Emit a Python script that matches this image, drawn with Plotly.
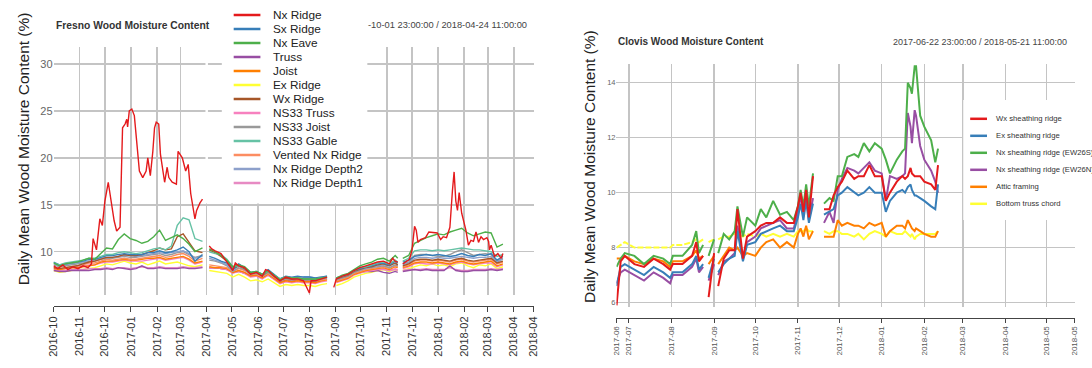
import plotly.graph_objects as go

# ---------------- DATA : Fresno (left panel) ----------------
L_DATES = [
    "2016-10-01", "2016-10-08", "2016-10-15", "2016-10-22", "2016-10-29", "2016-11-05", "2016-11-12",
    "2016-11-19", "2016-11-26", "2016-12-03", "2016-12-10", "2016-12-17", "2016-12-24", "2016-12-31",
    "2017-01-07", "2017-01-14", "2017-01-21", "2017-01-28", "2017-02-04", "2017-02-11", "2017-02-18",
    "2017-02-25", "2017-03-04", "2017-03-11", "2017-03-18", "2017-03-27",
    "2017-03-31",
    "2017-04-04", "2017-04-11", "2017-04-18", "2017-04-25", "2017-05-02", "2017-05-09", "2017-05-16",
    "2017-05-23", "2017-05-30", "2017-06-06", "2017-06-13", "2017-06-20", "2017-06-27", "2017-07-04",
    "2017-07-11", "2017-07-18", "2017-07-25", "2017-08-01", "2017-08-08", "2017-08-15", "2017-08-22",
    "2017-08-29",
    "2017-09-02", "2017-09-09", "2017-09-16", "2017-09-23", "2017-09-30", "2017-10-07", "2017-10-14",
    "2017-10-21", "2017-10-28", "2017-11-04", "2017-11-11", "2017-11-14",
    "2017-11-17",
    "2017-11-20", "2017-11-27", "2017-12-04", "2017-12-11", "2017-12-18", "2017-12-25", "2018-01-01",
    "2018-01-08", "2018-01-15", "2018-01-22", "2018-01-29", "2018-02-05", "2018-02-12", "2018-02-19",
    "2018-02-26", "2018-03-05", "2018-03-12", "2018-03-19",
]

SX_RIDGE = [8.9, 8.6, 8.7, 8.8, 8.9, 9.0, 9.2, 9.2, 9.4, 9.6, 9.6, 9.7, 9.8, 9.7, 9.7, 9.7, 9.9, 9.9, 10.1, 9.9, 10.0, 10.2, 10.5, 10.0, 9.0, 9.7,
            None,
            9.5, 9.3, 9.0, 8.8, 8.1, 8.7, 8.3, 7.8, 7.9, 7.6, 8.1, 7.6, 7.1, 7.4, 7.3, 7.4, 7.3, 7.3, 7.2, 7.3, 7.4,
            None,
            7.2, 7.4, 7.6, 8.0, 8.2, 8.4, 8.5, 8.7, 8.8, 8.6, 9.0, 8.8,
            None,
            8.9, 9.1, 9.5, 9.6, 9.7, 9.6, 9.7, 9.6, 9.5, 9.6, 9.8, 9.6, 9.5, 9.7, 9.6, 9.8, 9.1, 9.5]
NX_EAVE = [8.8, 8.5, 8.7, 8.8, 8.9, 9.1, 9.3, 9.2, 9.8, 10.4, 10.3, 11.3, 11.9, 11.4, 11.2, 10.9, 11.1, 11.6, 12.3, 11.2, 11.5, 11.8, 11.4, 10.8, 10.0, 10.4,
           None,
           10.3, 10.0, 9.6, 9.1, 8.4, 8.6, 8.4, 7.8, 7.9, 7.6, 8.0, 7.5, 7.0, 7.3, 7.2, 7.2, 7.1, 7.1, 7.1, 7.2, 7.3,
           None,
           7.2, 7.5, 7.7, 8.1, 8.5, 8.7, 8.9, 9.2, 9.3, 9.0, 9.6, 9.3,
           None,
           9.3, 9.6, 10.9, 11.2, 11.5, 11.7, 11.9, 11.8, 12.1, 12.3, 12.5, 12.0, 11.7, 11.9, 12.1, 12.0, 10.5, 10.8]
TRUSS = [8.0, 7.9, 7.9, 8.0, 8.0, 8.0, 8.0, 8.1, 8.1, 8.2, 8.1, 8.3, 8.2, 8.1, 8.2, 8.5, 8.2, 8.2, 8.3, 8.2, 8.2, 8.2, 8.3, 8.2, 8.2, 8.3,
         None,
         8.3, 8.3, 8.2, 8.1, 7.8, 7.9, 7.7, 7.4, 7.4, 7.2, 7.5, 7.1, 6.8, 7.0, 6.9, 7.0, 6.9, 6.9, 6.8, 7.0, 7.1,
         None,
         6.9, 7.1, 7.3, 7.6, 7.8, 7.9, 7.9, 8.0, 7.8, 7.7, 7.9, 7.8,
         None,
         7.9, 8.0, 8.1, 8.0, 8.1, 8.0, 8.0, 8.0, 8.5, 8.0, 7.9, 7.9, 8.0, 8.0, 8.0, 8.1, 8.0, 8.1]
JOIST = [8.2, 8.1, 8.2, 8.3, 8.3, 8.4, 8.5, 8.6, 8.9, 9.0, 9.0, 9.1, 9.2, 9.1, 9.1, 9.2, 9.3, 9.3, 9.4, 9.2, 9.3, 9.4, 9.5, 9.2, 8.8, 9.0,
         None,
         8.4, 8.3, 8.3, 8.2, 7.8, 8.0, 7.8, 7.4, 7.5, 7.2, 7.6, 7.1, 6.7, 6.9, 6.8, 6.9, 6.8, 6.8, 6.7, 6.9, 7.0,
         None,
         6.8, 7.0, 7.2, 7.6, 7.8, 8.0, 8.1, 8.2, 8.3, 8.1, 8.4, 8.3,
         None,
         8.3, 8.5, 8.8, 8.9, 8.9, 8.8, 8.9, 8.8, 8.7, 8.9, 9.0, 8.8, 8.7, 8.8, 8.9, 9.0, 8.5, 8.7]
EX_RIDGE = [8.0, 7.8, 7.9, 8.0, 8.1, 8.1, 8.2, 8.3, 8.5, 8.7, 8.6, 8.8, 9.0, 8.8, 8.7, 8.9, 8.6, 8.8, 9.0, 8.7, 8.8, 8.9, 8.7, 8.5, 8.4, 8.6,
            None,
            8.0, 7.9, 7.8, 7.7, 7.3, 7.6, 7.3, 6.9, 7.0, 6.8, 7.1, 6.7, 6.3, 6.5, 6.4, 6.5, 6.4, 6.4, 6.3, 6.5, 6.6,
            None,
            6.4, 6.6, 6.9, 7.3, 7.5, 7.7, 7.8, 8.0, 8.1, 7.9, 8.1, 8.0,
            None,
            8.0, 8.2, 8.4, 8.6, 8.5, 8.7, 8.5, 8.6, 8.4, 8.7, 8.8, 8.5, 8.3, 8.6, 8.5, 8.7, 8.2, 8.4]
WX_RIDGE = [8.3, 8.2, 8.3, 8.4, 8.5, 8.7, 8.9, 9.0, 9.2, 9.4, 9.4, 9.5, 9.7, 9.6, 9.6, 9.7, 9.9, 10.1, 10.4, 10.2, 10.3, 11.6, 11.9, 11.0, 10.1, 9.9,
            None,
            10.2, 9.9, 9.5, 9.0, 8.2, 8.5, 8.2, 7.7, 7.8, 7.5, 7.9, 7.4, 7.0, 7.2, 7.1, 7.2, 7.1, 7.1, 7.0, 7.2, 7.3,
            None,
            7.1, 7.3, 7.5, 7.9, 8.1, 8.3, 8.4, 8.6, 8.7, 8.5, 8.8, 8.6,
            None,
            8.5, 8.7, 9.1, 9.2, 9.2, 9.1, 9.2, 9.1, 9.0, 9.2, 9.3, 9.1, 9.0, 9.1, 9.2, 9.3, 8.8, 9.0]
NS33_TRUSS = [8.3, 8.1, 8.2, 8.3, 8.4, 8.5, 8.6, 8.6, 8.8, 8.9, 8.9, 9.0, 9.1, 9.0, 9.0, 9.0, 9.1, 9.2, 9.3, 9.1, 9.2, 9.3, 9.4, 9.1, 8.7, 8.9,
              None,
              8.3, 8.3, 8.2, 8.1, 7.7, 7.9, 7.7, 7.3, 7.4, 7.1, 7.5, 7.0, 6.6, 6.8, 6.7, 6.8, 6.7, 6.7, 6.6, 6.8, 6.9,
              None,
              6.7, 6.9, 7.1, 7.5, 7.7, 7.9, 8.0, 8.1, 8.2, 8.0, 8.2, 8.1,
              None,
              8.2, 8.4, 8.7, 8.8, 8.7, 8.7, 8.8, 8.7, 8.6, 8.8, 8.9, 8.7, 8.6, 8.7, 8.8, 8.8, 8.4, 8.6]
NS33_JOIST = [8.6, 8.4, 8.5, 8.6, 8.7, 8.8, 9.0, 9.0, 9.2, 9.3, 9.3, 9.4, 9.5, 9.4, 9.4, 9.5, 9.6, 9.7, 9.8, 9.6, 9.7, 9.9, 10.0, 9.7, 9.4, 9.6,
              None,
              9.1, 9.0, 8.8, 8.5, 7.9, 8.3, 8.1, 7.6, 7.7, 7.4, 7.8, 7.3, 6.9, 7.1, 7.0, 7.1, 7.0, 7.0, 6.9, 7.1, 7.2,
              None,
              7.0, 7.2, 7.4, 7.8, 8.0, 8.2, 8.3, 8.4, 8.5, 8.3, 8.6, 8.5,
              None,
              8.7, 8.9, 9.6, 9.7, 9.7, 9.6, 9.5, 9.5, 9.7, 10.0, 10.2, 9.9, 9.6, 9.7, 9.8, 9.7, 9.0, 9.3]
NS33_GABLE = [8.8, 8.6, 8.8, 8.9, 9.0, 9.1, 9.3, 9.3, 9.5, 9.7, 9.7, 9.9, 10.0, 9.9, 9.8, 9.9, 10.1, 10.3, 10.4, 10.2, 10.6, 12.8, 13.6, 13.4, 11.4, 11.1,
              None,
              10.0, 9.8, 9.7, 9.2, 8.4, 8.5, 8.3, 7.8, 7.8, 7.6, 7.9, 7.5, 7.1, 7.3, 7.2, 7.2, 7.1, 7.1, 7.1, 7.2, 7.3,
              None,
              7.2, 7.4, 7.6, 8.0, 8.3, 8.4, 8.6, 8.8, 8.9, 8.7, 9.1, 8.9,
              None,
              9.0, 9.3, 10.1, 10.2, 10.2, 10.1, 10.2, 10.1, 10.2, 10.3, 10.4, 10.3, 10.2, 10.2, 10.1, 10.0, 9.5, 9.7]
VENTED_NX_RIDGE = [8.4, 8.2, 8.3, 8.4, 8.5, 8.6, 8.8, 8.8, 9.0, 9.2, 9.1, 9.2, 9.3, 9.2, 9.2, 9.3, 9.4, 9.5, 9.6, 9.4, 9.5, 9.7, 9.8, 9.5, 9.0, 9.3,
                   None,
                   8.6, 8.5, 8.4, 8.3, 7.9, 8.2, 8.0, 7.6, 7.6, 7.4, 7.7, 7.3, 6.9, 7.1, 7.0, 7.1, 7.0, 7.0, 6.9, 7.0, 7.1,
                   None,
                   6.9, 7.1, 7.3, 7.7, 7.9, 8.1, 8.2, 8.3, 8.4, 8.2, 8.5, 8.4,
                   None,
                   8.4, 8.6, 9.0, 9.1, 9.1, 9.0, 9.1, 9.0, 8.9, 9.1, 9.2, 9.0, 8.9, 9.0, 9.1, 9.2, 8.7, 8.9]
NX_RIDGE_DEPTH2 = [8.7, 8.5, 8.6, 8.7, 8.8, 8.9, 9.0, 9.1, 9.3, 9.4, 9.4, 9.5, 9.6, 9.6, 9.5, 9.6, 9.7, 9.8, 9.9, 9.8, 9.9, 10.0, 10.1, 9.8, 9.3, 9.5,
                   None,
                   9.3, 9.1, 8.9, 8.6, 8.0, 8.5, 8.2, 7.7, 7.8, 7.5, 7.9, 7.5, 7.1, 7.3, 7.2, 7.3, 7.3, 7.3, 7.2, 7.3, 7.4,
                   None,
                   7.2, 7.3, 7.5, 7.9, 8.1, 8.2, 8.4, 8.5, 8.6, 8.5, 8.8, 8.6,
                   None,
                   8.6, 8.8, 9.3, 9.4, 9.4, 9.3, 9.4, 9.3, 9.3, 9.4, 9.5, 9.4, 9.3, 9.4, 9.4, 9.5, 8.9, 9.2]
NX_RIDGE_DEPTH1 = [8.1, 8.0, 8.0, 8.1, 8.1, 8.1, 8.2, 8.2, 8.2, 8.3, 8.2, 8.3, 8.3, 8.2, 8.3, 8.4, 8.3, 8.3, 8.4, 8.3, 8.3, 8.3, 8.4, 8.3, 8.3, 8.4,
                   None,
                   8.3, 8.3, 8.2, 8.2, 7.8, 8.0, 7.8, 7.5, 7.5, 7.3, 7.6, 7.2, 6.9, 7.1, 7.0, 7.1, 7.0, 7.0, 6.9, 7.1, 7.2,
                   None,
                   7.0, 7.2, 7.4, 7.7, 7.9, 8.0, 8.1, 8.1, 8.1, 8.0, 8.1, 8.0,
                   None,
                   8.0, 8.1, 8.1, 8.1, 8.2, 8.1, 8.1, 8.1, 8.3, 8.1, 8.0, 8.0, 8.1, 8.1, 8.1, 8.2, 8.1, 8.2]

NXR_DATES = [
    "2016-10-01", "2016-10-06", "2016-10-12", "2016-10-18", "2016-10-24", "2016-10-30", "2016-11-05", "2016-11-11",
    "2016-11-15", "2016-11-17", "2016-11-21", "2016-11-25", "2016-11-28", "2016-12-01", "2016-12-05", "2016-12-08",
    "2016-12-12", "2016-12-15", "2016-12-19", "2016-12-22", "2016-12-25", "2016-12-27", "2016-12-28", "2016-12-30",
    "2017-01-02", "2017-01-05", "2017-01-08", "2017-01-09", "2017-01-11", "2017-01-15", "2017-01-19", "2017-01-21",
    "2017-01-24", "2017-01-27", "2017-01-29", "2017-01-31", "2017-02-03", "2017-02-05", "2017-02-07", "2017-02-10",
    "2017-02-13", "2017-02-15", "2017-02-19", "2017-02-24", "2017-02-26", "2017-02-28", "2017-03-03", "2017-03-07",
    "2017-03-10", "2017-03-13", "2017-03-18", "2017-03-20", "2017-03-24", "2017-03-27",
    "2017-03-31",
    "2017-04-04", "2017-04-07", "2017-04-11", "2017-04-18", "2017-04-25", "2017-05-02", "2017-05-05", "2017-05-09",
    "2017-05-16", "2017-05-23", "2017-05-30", "2017-06-06", "2017-06-10", "2017-06-13", "2017-06-20", "2017-06-27",
    "2017-07-04", "2017-07-11", "2017-07-18", "2017-07-25", "2017-08-01", "2017-08-03", "2017-08-08", "2017-08-15",
    "2017-08-22",
    "2017-08-27",
    "2017-08-30", "2017-09-02", "2017-09-09", "2017-09-16", "2017-09-23", "2017-09-30", "2017-10-07", "2017-10-14",
    "2017-10-21", "2017-10-28", "2017-11-04", "2017-11-08", "2017-11-11", "2017-11-14",
    "2017-11-17",
    "2017-11-20", "2017-11-28", "2017-12-01", "2017-12-04", "2017-12-06", "2017-12-08", "2017-12-11", "2017-12-17",
    "2017-12-21", "2017-12-27", "2017-12-31", "2018-01-04", "2018-01-07", "2018-01-11", "2018-01-15", "2018-01-18",
    "2018-01-20", "2018-01-22", "2018-01-24", "2018-01-26", "2018-01-29", "2018-02-03", "2018-02-06", "2018-02-09",
    "2018-02-12", "2018-02-15", "2018-02-18", "2018-02-21", "2018-02-24", "2018-02-28", "2018-03-02", "2018-03-03",
    "2018-03-05", "2018-03-09", "2018-03-13", "2018-03-17", "2018-03-19",
]
NX_RIDGE = [
    8.5, 8.2, 8.6, 8.1, 8.4, 8.2, 8.5, 8.3,
    8.7, 11.4, 10.2, 13.5, 12.8, 15.4, 17.4, 15.4,
    13.3, 12.2, 12.6, 23.2, 23.6, 24.1, 23.3, 25.0,
    25.2, 24.5, 21.5, 20.0, 18.6, 17.9, 18.6, 20.0,
    18.1, 20.7, 23.2, 23.8, 23.6, 20.4, 19.3, 17.4,
    19.0, 17.9, 17.4, 17.2, 20.7, 20.4, 20.0, 18.6,
    19.3, 16.2, 13.5, 14.4, 15.2, 15.6,
    None,
    10.6, 10.3, 10.1, 9.8, 8.9, 8.0, 8.8, 8.5,
    8.3, 7.6, 7.8, 7.4, 8.1, 8.0, 7.4, 6.9,
    7.3, 7.1, 7.1, 6.9, 5.6, 6.9, 6.9, 7.1,
    7.3,
    None,
    6.2, 7.1, 7.4, 7.6, 8.0, 8.3, 8.5, 8.7,
    8.9, 9.0, 8.7, 9.3, 9.0, 8.9,
    None,
    8.7, 9.2, 10.2, 12.7, 12.3, 11.0, 11.3, 11.5,
    12.1, 12.0, 12.0, 11.3, 11.6, 11.5, 12.6, 16.5,
    18.5, 15.4, 14.4, 16.3, 14.1, 12.3, 10.7, 11.2,
    11.1, 12.1, 11.0, 11.6, 11.3, 11.5, 11.1, 10.2,
    10.7, 9.5, 9.8, 9.3, 9.8,
]

L_TICKVALS = ["2016-10-01", "2016-11-01", "2016-12-01", "2017-01-01", "2017-02-01", "2017-03-01", "2017-04-01",
              "2017-05-01", "2017-06-01", "2017-07-01", "2017-08-01", "2017-09-01", "2017-10-01", "2017-11-01",
              "2017-12-01", "2018-01-01", "2018-02-01", "2018-03-01", "2018-04-01", "2018-04-24"]
L_TICKTEXT = ["2016-10", "2016-11", "2016-12", "2017-01", "2017-02", "2017-03", "2017-04", "2017-05", "2017-06",
              "2017-07", "2017-08", "2017-09", "2017-10", "2017-11", "2017-12", "2018-01", "2018-02", "2018-03",
              "2018-04", "2018-04"]
L_YTICKS = [10, 15, 20, 25, 30]

# ---------------- DATA : Clovis (right panel) ----------------
R_DATES = [
    "2017-06-22", "2017-06-25", "2017-06-28", "2017-07-05", "2017-07-12", "2017-07-19", "2017-07-26", "2017-07-31",
    "2017-08-02", "2017-08-09", "2017-08-16", "2017-08-19", "2017-08-21", "2017-08-24",
    "2017-08-26",
    "2017-08-28", "2017-09-01",
    "2017-09-02",
    "2017-09-04", "2017-09-08", "2017-09-12", "2017-09-16", "2017-09-18", "2017-09-22", "2017-09-25", "2017-10-01",
    "2017-10-05", "2017-10-09", "2017-10-14", "2017-10-19", "2017-10-24", "2017-10-29", "2017-11-01", "2017-11-03",
    "2017-11-05", "2017-11-07", "2017-11-09", "2017-11-12",
    "2017-11-16",
    "2017-11-20", "2017-11-24", "2017-11-27", "2017-11-30", "2017-12-03", "2017-12-07", "2017-12-12", "2017-12-15",
    "2017-12-19", "2017-12-23", "2017-12-27", "2018-01-01", "2018-01-04", "2018-01-07", "2018-01-12", "2018-01-16",
    "2018-01-18", "2018-01-20", "2018-01-22", "2018-01-23", "2018-01-25", "2018-01-26", "2018-01-29", "2018-02-01",
    "2018-02-06", "2018-02-09", "2018-02-11",
]
WX_SHEATHING = [5.9, 7.5, 7.7, 7.4, 7.3, 7.6, 7.4, 7.2, 7.4, 7.4, 7.7, 8.2, 7.5, 7.7, None, 6.2, 7.8, None,
                6.6, 7.6, 7.9, 7.9, 9.4, 7.6, 8.4, 8.6, 8.8, 8.9, 8.9, 9.1, 8.9, 8.9, 9.5, 10.0, 9.3, 10.1, 9.1, 10.6,
                None,
                9.4, 9.4, 9.9, 10.2, 10.4, 10.8, 10.5, 10.6, 10.6, 11.0, 10.6, 10.6, 9.7, 10.0, 10.4, 10.6, 10.5,
                10.6, 10.9, 10.7, 10.6, 10.6, 10.6, 10.4, 10.3, 10.1, 11.0]
EX_SHEATHING = [6.6, 7.3, 7.4, 7.2, 7.0, 7.3, 7.1, 6.9, 7.1, 7.1, 7.4, 7.7, 7.2, 7.4, None, 6.9, 7.6, None,
                7.1, 7.4, 7.6, 7.7, 8.6, 7.5, 8.1, 8.2, 8.5, 8.6, 8.7, 8.8, 8.6, 8.6, 9.1, 9.6, 9.0, 9.7, 8.9, 9.6,
                None,
                9.2, 9.3, 9.4, 9.9, 10.0, 10.2, 10.0, 9.9, 10.0, 10.2, 10.0, 10.0, 9.3, 9.7, 10.0, 10.1, 10.0,
                10.2, 10.3, 10.1, 9.9, 9.9, 9.8, 9.7, 9.5, 9.4, 10.3]
NX_SHEATHING_S = [7.3, 7.6, 7.8, 7.7, 7.4, 7.7, 7.6, 7.4, 7.7, 7.7, 8.1, 8.6, 7.8, 8.1, None, 7.7, 8.3, None,
                  7.8, 8.5, 8.3, 8.6, 9.5, 8.4, 9.1, 8.8, 9.4, 9.1, 9.7, 9.2, 9.3, 9.0, 9.5, 10.1, 9.5, 10.3, 9.5, 10.7,
                  None,
                  9.6, 9.8, 9.7, 10.6, 10.6, 11.3, 11.4, 11.3, 11.8, 11.5, 11.8, 11.6, 11.2, 10.7, 11.2, 11.5, 11.6,
                  14.0, 13.8, 13.6, 14.6, 14.6, 12.8, 12.4, 11.9, 11.1, 11.6]
NX_SHEATHING_N = [6.7, 7.1, 7.2, 7.0, 6.8, 7.1, 6.9, 6.7, 7.0, 7.0, 7.3, 7.6, 7.1, 7.3, None, 6.8, 7.4, None,
                  7.0, 7.5, 7.6, 7.8, 8.8, 7.6, 8.2, 8.4, 8.7, 8.8, 8.9, 9.0, 8.7, 8.7, 9.3, 9.9, 9.2, 10.0, 9.0, 9.8,
                  None,
                  8.9, 9.3, 8.9, 10.1, 10.5, 10.9, 10.8, 10.7, 10.9, 11.1, 10.8, 10.7, 9.7, 10.6, 10.5, 10.6, 10.7,
                  12.9, 12.4, 11.8, 13.0, 12.8, 11.7, 11.2, 10.8, 10.4, 10.0]
ATTIC_FRAMING = [7.6, 7.6, 7.7, 7.5, 7.4, 7.6, 7.5, 7.3, 7.5, 7.5, 7.7, 7.9, 7.6, 7.7, None, 7.4, 7.7, None,
                 7.4, 7.7, 8.0, 7.9, 8.0, 7.7, 7.8, 7.7, 8.0, 8.2, 8.3, 8.0, 8.2, 8.0, 8.5, 8.7, 8.4, 8.8, 8.3, 8.6,
                 None,
                 8.4, 8.4, 8.4, 9.0, 8.8, 8.9, 8.8, 8.8, 8.7, 8.9, 8.8, 8.9, 8.4, 8.6, 8.8, 8.8, 8.7,
                 9.0, 8.8, 8.7, 8.6, 8.7, 8.6, 8.5, 8.4, 8.4, 8.6]
BOTTOM_TRUSS = [8.0, 8.1, 8.2, 8.0, 8.0, 8.0, 8.0, 8.0, 8.1, 8.1, 8.2, 8.3, 8.2, 8.3, None, 8.2, 8.3, None,
                8.3, 8.4, 8.4, 8.5, 8.5, 8.4, 8.5, 8.4, 8.5, 8.4, 8.5, 8.4, 8.5, 8.4, 8.6, 8.6, 8.6, 8.7, 8.6, 8.6,
                None,
                8.6, 8.5, 8.6, 8.6, 8.5, 8.5, 8.4, 8.5, 8.3, 8.5, 8.6, 8.5, 8.4, 8.6, 8.5, 8.5, 8.6,
                8.5, 8.4, 8.5, 8.3, 8.4, 8.5, 8.5, 8.5, 8.5, 8.6]

R_TICKVALS = ["2017-06-22", "2017-07-01", "2017-08-01", "2017-09-01", "2017-10-01", "2017-11-01", "2017-12-01",
              "2018-01-01", "2018-02-01", "2018-03-01", "2018-04-01", "2018-05-01", "2018-05-21"]
R_TICKTEXT = ["2017-06", "2017-07", "2017-08", "2017-09", "2017-10", "2017-11", "2017-12", "2018-01", "2018-02",
              "2018-03", "2018-04", "2018-05", "2018-05"]
R_YTICKS = [6, 8, 10, 12, 14]

LEFT_NAMES = ["Nx Ridge", "Sx Ridge", "Nx Eave", "Truss", "Joist", "Ex Ridge", "Wx Ridge", "NS33 Truss",
              "NS33 Joist", "NS33 Gable", "Vented Nx Ridge", "Nx Ridge Depth2", "Nx Ridge Depth1"]
RIGHT_NAMES = ["Wx sheathing ridge", "Ex sheathing ridge", "Nx sheathing ridge (EW26S)",
               "Nx sheathing ridge (EW26N)", "Attic framing", "Bottom truss chord"]

# ---------------- STYLE ----------------
LEFT_COLORS = ["#E41A1C", "#377EB8", "#4DAF4A", "#984EA3", "#FF7F00", "#FFFF33", "#A65628", "#F781BF",
               "#999999", "#66C2A5", "#FC8D62", "#8DA0CB", "#E78AC3"]
RIGHT_COLORS = ["#E41A1C", "#377EB8", "#4DAF4A", "#984EA3", "#FF7F00", "#FFFF33"]

W, H = 1092, 368
FONT = "Liberation Sans, Arial, Helvetica, sans-serif"
GRID = "#c4c4c4"


def px(x):
    return x / W


def py(y):
    return 1 - y / H


fig = go.Figure()

left_values = [NX_RIDGE, SX_RIDGE, NX_EAVE, TRUSS, JOIST, EX_RIDGE, WX_RIDGE, NS33_TRUSS, NS33_JOIST,
               NS33_GABLE, VENTED_NX_RIDGE, NX_RIDGE_DEPTH2, NX_RIDGE_DEPTH1]
draw_order = [5, 12, 3, 7, 4, 10, 8, 11, 6, 1, 9, 2, 0]
for i in draw_order:
    xs = NXR_DATES if i == 0 else L_DATES
    fig.add_trace(go.Scatter(x=xs, y=left_values[i], mode="lines", name=LEFT_NAMES[i],
                             line=dict(color=LEFT_COLORS[i], width=1.4), connectgaps=False,
                             xaxis="x", yaxis="y", showlegend=False, hoverinfo="skip"))

right_values = [WX_SHEATHING, EX_SHEATHING, NX_SHEATHING_S, NX_SHEATHING_N, ATTIC_FRAMING, BOTTOM_TRUSS]
split = R_DATES.index("2017-10-01")
fig.add_trace(go.Scatter(x=R_DATES[:split + 1], y=BOTTOM_TRUSS[:split + 1], mode="lines",
                         name=RIGHT_NAMES[5], line=dict(color=RIGHT_COLORS[5], width=2, dash="6px,2px"),
                         xaxis="x2", yaxis="y2", showlegend=False, hoverinfo="skip"))
fig.add_trace(go.Scatter(x=R_DATES[split:], y=BOTTOM_TRUSS[split:], mode="lines",
                         name=RIGHT_NAMES[5], line=dict(color=RIGHT_COLORS[5], width=2),
                         xaxis="x2", yaxis="y2", showlegend=False, hoverinfo="skip"))
for i in [4, 3, 1, 2, 0]:
    fig.add_trace(go.Scatter(x=R_DATES, y=right_values[i], mode="lines", name=RIGHT_NAMES[i],
                             line=dict(color=RIGHT_COLORS[i], width=2), connectgaps=False,
                             xaxis="x2", yaxis="y2", showlegend=False, hoverinfo="skip"))

L_YR = [5.39, 31.84]
R_YR = [5.84, 14.68]

xcommon = dict(type="date", tickangle=-90, showgrid=True, gridcolor=GRID, gridwidth=1.5,
               showline=True, linecolor="#444", linewidth=1, ticks="outside", tickcolor="#444",
               tickwidth=1, zeroline=False, anchor="free")
ycommon = dict(showgrid=True, gridcolor=GRID, gridwidth=1.5, zeroline=False, showline=False, ticks="")

fig.update_layout(
    width=W, height=H, margin=dict(l=0, r=0, t=0, b=0),
    paper_bgcolor="white", plot_bgcolor="white", showlegend=False,
    font=dict(family=FONT, color="#333"),
    xaxis=dict(xcommon, domain=[px(48), px(533)], range=["2016-09-30 23:00", "2018-04-24 12:00"],
               tickvals=L_TICKVALS, ticktext=L_TICKTEXT, position=py(306), ticklen=5,
               tickfont=dict(size=11, color="#333")),
    yaxis=dict(ycommon, domain=[py(295), py(46.7)], range=L_YR, tickvals=L_YTICKS, anchor="x",
               side="left", tickfont=dict(size=11, color="#666")),
    yaxis3=dict(showgrid=False, zeroline=False, showline=False, ticks="", overlaying="y", side="right",
                anchor="x", range=L_YR, tickvals=L_YTICKS, tickfont=dict(size=11, color="#666")),
    xaxis2=dict(xcommon, domain=[px(616.7), px(1079.6)], range=["2017-06-21 23:00", "2018-05-21 12:00"],
                tickvals=R_TICKVALS, ticktext=R_TICKTEXT, position=py(318), ticklen=4,
                tickfont=dict(size=8, color="#555")),
    yaxis2=dict(ycommon, domain=[py(307), py(64)], range=R_YR, tickvals=R_YTICKS, anchor="x2",
                side="left", tickfont=dict(size=7.5, color="#666")),
    yaxis4=dict(showgrid=False, zeroline=False, showline=False, ticks="", overlaying="y2", side="right",
                anchor="x2", range=R_YR, tickvals=R_YTICKS, tickfont=dict(size=7.5, color="#666")),
)

shapes = []
annotations = []

annotations.append(dict(text="<b>Fresno Wood Moisture Content</b>", x=px(48), y=py(25), xref="paper",
                        yref="paper", xanchor="left", yanchor="middle", showarrow=False,
                        font=dict(size=10.3, color="#333")))
annotations.append(dict(text="-10-01 23:00:00 / 2018-04-24 11:00:00", x=px(528), y=py(25), xref="paper",
                        yref="paper", xanchor="right", yanchor="middle", showarrow=False,
                        font=dict(size=9.3, color="#444")))
annotations.append(dict(text="<b>Clovis Wood Moisture Content</b>", x=px(616), y=py(42), xref="paper",
                        yref="paper", xanchor="left", yanchor="middle", showarrow=False,
                        font=dict(size=10, color="#333")))
annotations.append(dict(text="2017-06-22 23:00:00 / 2018-05-21 11:00:00", x=px(1074), y=py(42),
                        xref="paper", yref="paper", xanchor="right", yanchor="middle", showarrow=False,
                        font=dict(size=9, color="#444")))
for xc, yc in [(18, 148.5), (589, 167)]:
    annotations.append(dict(text="Daily Mean Wood Moisture Content (%)", x=px(xc), y=py(yc), xref="paper",
                            yref="paper", xanchor="center", yanchor="middle", showarrow=False,
                            textangle=-90, font=dict(size=15.5, color="#222")))

# the 2017-04 grid line is hidden above the legend's lower edge in the reference
shapes.append(dict(type="line", xref="x", yref="paper", x0="2017-04-01", x1="2017-04-01",
                   y0=py(203.5), y1=py(40), line=dict(color="white", width=2.5), layer="above"))

# left legend
shapes.append(dict(type="rect", xref="paper", yref="paper", x0=px(218), x1=px(365), y0=py(203.5), y1=py(0),
                   fillcolor="white", line=dict(width=0), layer="above"))
for i, (name, color) in enumerate(zip(LEFT_NAMES, LEFT_COLORS)):
    yy = 15 + 14 * i
    shapes.append(dict(type="line", xref="paper", yref="paper", x0=px(230), x1=px(257), y0=py(yy), y1=py(yy),
                       line=dict(color=color, width=2.5), layer="above"))
    annotations.append(dict(text=name, x=px(268), y=py(yy), xref="paper", yref="paper", xanchor="left",
                            yanchor="middle", showarrow=False, font=dict(size=11.8, color="#222")))

# right legend
shapes.append(dict(type="rect", xref="paper", yref="paper", x0=px(967), x1=px(1092), y0=py(220), y1=py(100),
                   fillcolor="white", line=dict(width=0), layer="above"))
for i, (name, color) in enumerate(zip(RIGHT_NAMES, RIGHT_COLORS)):
    yy = 118.8 + 17 * i
    shapes.append(dict(type="line", xref="paper", yref="paper", x0=px(974), x1=px(991), y0=py(yy), y1=py(yy),
                       line=dict(color=color, width=2.5), layer="above"))
    annotations.append(dict(text=name, x=px(998), y=py(yy), xref="paper", yref="paper", xanchor="left",
                            yanchor="middle", showarrow=False, font=dict(size=7.7, color="#333")))

fig.update_layout(shapes=shapes, annotations=annotations)
fig.write_html("out.html", config={"staticPlot": True, "displayModeBar": False},
               post_script="document.body.style.margin='0px';document.body.style.overflow='hidden';")
